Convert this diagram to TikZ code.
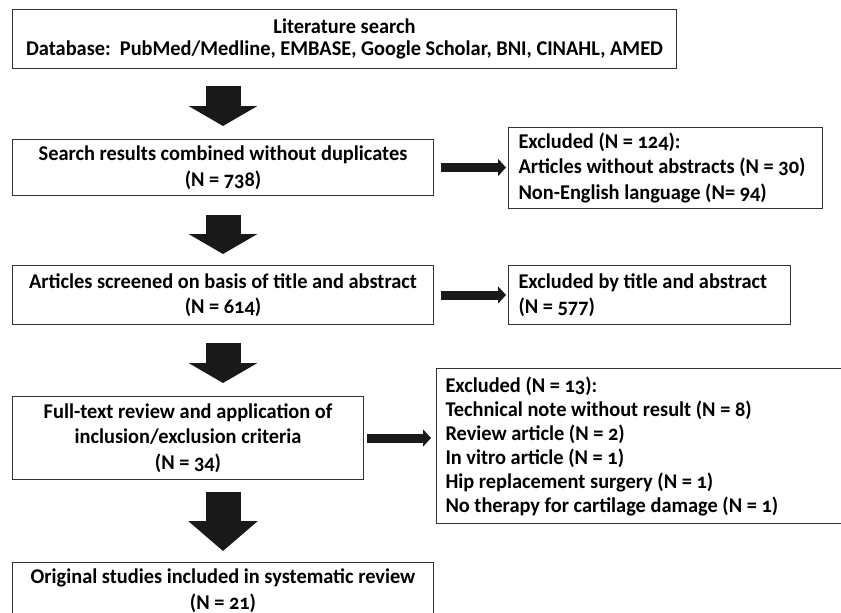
\documentclass[tikz,border=0pt]{standalone}
\usepackage{fontspec}
\setmainfont{Carlito}[Numbers=OldStyle, FakeStretch=0.97]
\usetikzlibrary{positioning,arrows.meta}

\begin{document}
\begin{tikzpicture}[
    x=1pt, y=1pt,
    font=\bfseries\fontsize{21}{25.5}\selectfont,
    every node/.style={
        draw=black!80,
        line width=1pt,
        inner sep=0pt
    },
    stage/.style={
        align=center,
        minimum width=421pt
    },
    excl/.style={
        align=flush left,
        inner xsep=10pt
    },
    downarrow/.style={black!90, line width=35pt, -{Triangle[width=68pt,length=20pt]}},
    sidearrow/.style={black!90, line width=9pt, -{Triangle[width=17pt,length=8pt]}}
]

\clip (0,0) rectangle (841,-613);

% Nodes
\node (search) [align=center, minimum width=664pt, minimum height=59pt, anchor=north west,
    font=\bfseries\fontsize{21}{22}\selectfont] at (12,-9)
    {Literature search\\Database:\ \ PubMed/Medline, EMBASE, Google Scholar, BNI, CINAHL, AMED};
\node (combined) [stage, minimum height=56pt, below=70pt of search.south west, anchor=north west]
    {Search results combined without duplicates\\(N = 738)};
\node (screened) [stage, minimum height=59pt, below=69pt of combined.south west, anchor=north west]
    {Articles screened on basis of title and abstract\\(N = 614)};
\node (fulltext) [stage, minimum width=351pt, minimum height=83pt, below=71pt of screened.south west, anchor=north west]
    {Full-text review and application of\\inclusion/exclusion criteria\\(N = 34)};
\node (included) [stage, minimum height=56pt, below=82pt of fulltext.south west, anchor=north west]
    {Original studies included in systematic review\\(N = 21)};

\node (excl1) [excl, text width=294pt, minimum height=81pt, right=74pt of combined]
    {Excluded (N = 124):\\Articles without abstracts (N = 30)\\Non-English language (N= 94)};
\node (excl2) [excl, text width=262pt, minimum height=59pt, right=74pt of screened]
    {Excluded by title and abstract\\(N = 577)};
\node (excl3) [excl, inner xsep=9pt, text width=400pt, minimum height=155pt, right=72pt of fulltext, yshift=-8pt,
    font=\bfseries\fontsize{21}{24}\selectfont]
    {Excluded (N = 13):\\Technical note without result (N = 8)\\Review article (N = 2)\\In vitro article (N = 1)\\Hip replacement surgery (N = 1)\\No therapy for cartilage damage (N = 1)};

% Arrows
\draw[downarrow, shorten <=17pt, shorten >=13pt] (search.south -| combined.north) -- (combined.north);
\draw[downarrow, shorten <=19pt, shorten >=11pt] (combined.south) -- (screened.north);
\draw[downarrow, shorten <=18pt, shorten >=13pt] (screened.south) -- (screened.south |- fulltext.north);
\draw[downarrow, -{Triangle[width=68pt,length=30pt]}, shorten <=12pt, shorten >=11pt] (screened.south |- fulltext.south) -- (included.north);

\draw[sidearrow, shorten <=7pt, shorten >=2pt] (combined.east) -- (combined.east -| excl1.west);
\draw[sidearrow, shorten <=7pt, shorten >=2pt] (screened.east) -- (excl2.west);
\draw[sidearrow, shorten <=3pt, shorten >=5pt] (fulltext.east) -- (fulltext.east -| excl3.west);

\end{tikzpicture}
\end{document}
